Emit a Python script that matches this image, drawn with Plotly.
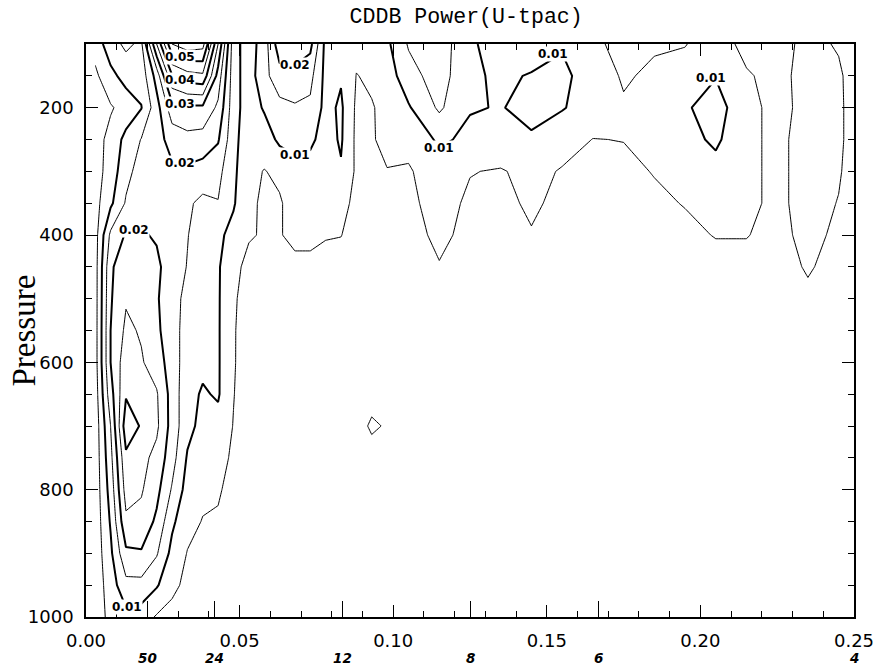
import plotly.graph_objects as go

# frequency (cycles/day) columns of the power grid
freq = [0.003, 0.008, 0.013, 0.018, 0.023, 0.028, 0.033, 0.038, 0.043, 0.048, 0.053,
        0.058, 0.063, 0.068, 0.073, 0.078, 0.083, 0.088, 0.093, 0.098,
        0.105, 0.115, 0.125, 0.135, 0.145, 0.155, 0.165, 0.175, 0.185, 0.195,
        0.205, 0.215, 0.225, 0.235, 0.245, 0.25]

pressure = [100, 150, 200, 250, 300, 350, 400, 450, 500, 550, 600, 650, 700,
            750, 800, 850, 900, 950, 1000]

# power at each pressure level (one list per level, ordered as freq)
p100 = [0.007, 0.013, 0.016, 0.014, 0.035, 0.055, 0.058, 0.057, 0.035, 0.012, 0.0075,
        0.0125, 0.023, 0.024, 0.0215, 0.0085, 0.008, 0.006, 0.0065, 0.009,
        0.0155, 0.018, 0.0105, 0.0085, 0.0085, 0.0095, 0.006, 0.0035, 0.0045, 0.0048,
        0.0075, 0.0035, 0.003, 0.0065, 0.0045, 0.003]
p150 = [0.004, 0.0085, 0.012, 0.012, 0.022, 0.0395, 0.043, 0.044, 0.028, 0.012, 0.0075,
        0.0135, 0.018, 0.018, 0.0165, 0.0085, 0.0095, 0.0049, 0.0055, 0.0075,
        0.013, 0.0175, 0.0105, 0.0095, 0.0102, 0.0112, 0.0075, 0.0045, 0.0058, 0.0068,
        0.0098, 0.0055, 0.0035, 0.0068, 0.0058, 0.003]
p200 = [0.003, 0.0045, 0.0068, 0.0098, 0.018, 0.028, 0.029, 0.029, 0.024, 0.012, 0.0075,
        0.0105, 0.0135, 0.0145, 0.014, 0.0085, 0.0108, 0.0042, 0.0048, 0.0058,
        0.0095, 0.0158, 0.0103, 0.0098, 0.0112, 0.0103, 0.008, 0.0055, 0.0065, 0.0095,
        0.0118, 0.007, 0.003, 0.007, 0.006, 0.003]
p250 = [0.003, 0.0065, 0.0115, 0.0152, 0.018, 0.022, 0.0235, 0.023, 0.0205, 0.0115, 0.007,
        0.0075, 0.011, 0.0115, 0.011, 0.008, 0.0106, 0.004, 0.0045, 0.0065,
        0.0065, 0.0108, 0.009, 0.0085, 0.0095, 0.0072, 0.0049, 0.0051, 0.0062, 0.0085,
        0.0108, 0.0065, 0.0035, 0.0075, 0.006, 0.003]
p300 = [0.003, 0.007, 0.0135, 0.017, 0.0185, 0.019, 0.019, 0.018, 0.0165, 0.011, 0.0065,
        0.0048, 0.006, 0.0085, 0.008, 0.007, 0.0095, 0.0042, 0.0046, 0.0048,
        0.0045, 0.0078, 0.0052, 0.0046, 0.0065, 0.0046, 0.0042, 0.004, 0.0052, 0.0065,
        0.0085, 0.0065, 0.0035, 0.0075, 0.0055, 0.003]
p350 = [0.0033, 0.009, 0.0155, 0.0185, 0.019, 0.0175, 0.0158, 0.0138, 0.0148, 0.0105, 0.006,
        0.0042, 0.0045, 0.007, 0.0065, 0.006, 0.0065, 0.0038, 0.004, 0.0045,
        0.004, 0.0068, 0.0042, 0.0042, 0.0055, 0.0042, 0.0035, 0.0035, 0.0042, 0.0052,
        0.0068, 0.0062, 0.0038, 0.007, 0.0048, 0.003]
p400 = [0.003, 0.016, 0.0205, 0.0205, 0.0195, 0.017, 0.0152, 0.0125, 0.011, 0.0085, 0.0055,
        0.0045, 0.0048, 0.0058, 0.0055, 0.0052, 0.0051, 0.0035, 0.0035, 0.004,
        0.0037, 0.0058, 0.004, 0.004, 0.0048, 0.004, 0.003, 0.003, 0.0035, 0.004,
        0.0052, 0.0052, 0.0035, 0.0065, 0.004, 0.003]
p450 = [0.003, 0.019, 0.024, 0.0215, 0.021, 0.0175, 0.0148, 0.0125, 0.0105, 0.0065, 0.0035,
        0.003, 0.003, 0.0042, 0.0045, 0.004, 0.0035, 0.003, 0.003, 0.0035,
        0.0032, 0.0048, 0.0035, 0.0033, 0.0035, 0.0035, 0.0025, 0.0025, 0.003, 0.0032,
        0.0035, 0.0035, 0.003, 0.0055, 0.0032, 0.003]
p500 = [0.003, 0.0195, 0.0245, 0.0235, 0.0205, 0.017, 0.0135, 0.012, 0.0105, 0.0058, 0.0025,
        0.002, 0.002, 0.0028, 0.003, 0.003, 0.0025, 0.0025, 0.0025, 0.0028,
        0.0028, 0.003, 0.003, 0.0028, 0.0028, 0.0028, 0.002, 0.002, 0.0022, 0.0025,
        0.0028, 0.0028, 0.0025, 0.004, 0.0028, 0.002]
p550 = [0.003, 0.02, 0.026, 0.0245, 0.021, 0.017, 0.013, 0.0115, 0.0105, 0.0055, 0.0022,
        0.0018, 0.0018, 0.002, 0.0022, 0.0022, 0.002, 0.002, 0.002, 0.0022,
        0.0022, 0.0025, 0.0025, 0.0022, 0.0022, 0.0022, 0.0018, 0.0018, 0.002, 0.002,
        0.0022, 0.0022, 0.002, 0.003, 0.0022, 0.0018]
p600 = [0.003, 0.02, 0.028, 0.0255, 0.0225, 0.0175, 0.0125, 0.011, 0.0105, 0.0055, 0.002,
        0.0018, 0.0018, 0.0018, 0.002, 0.002, 0.002, 0.0022, 0.0025, 0.0025,
        0.002, 0.0022, 0.0022, 0.002, 0.002, 0.002, 0.0018, 0.0018, 0.0018, 0.0018,
        0.002, 0.002, 0.0018, 0.0025, 0.002, 0.0018]
p650 = [0.0025, 0.018, 0.0295, 0.0275, 0.0255, 0.018, 0.0115, 0.0095, 0.0105, 0.0052, 0.002,
        0.0018, 0.0018, 0.0018, 0.0018, 0.002, 0.002, 0.0025, 0.003, 0.0028,
        0.0022, 0.002, 0.002, 0.0018, 0.0018, 0.0018, 0.0018, 0.0018, 0.0018, 0.0018,
        0.0018, 0.0018, 0.0018, 0.0022, 0.0018, 0.0015]
p700 = [0.002, 0.015, 0.033, 0.0295, 0.026, 0.018, 0.0115, 0.0085, 0.0085, 0.0048, 0.002,
        0.0018, 0.0018, 0.0018, 0.0018, 0.002, 0.002, 0.0028, 0.0058, 0.0045,
        0.0025, 0.002, 0.0018, 0.0018, 0.0018, 0.0018, 0.0018, 0.0018, 0.0018, 0.0018,
        0.0018, 0.0018, 0.0018, 0.002, 0.0018, 0.0015]
p750 = [0.002, 0.0135, 0.029, 0.0265, 0.0235, 0.017, 0.0095, 0.0075, 0.0065, 0.0043, 0.0018,
        0.0015, 0.0015, 0.0015, 0.0018, 0.0018, 0.0018, 0.0022, 0.0028, 0.0025,
        0.002, 0.0018, 0.0018, 0.0015, 0.0015, 0.0015, 0.0015, 0.0015, 0.0015, 0.0015,
        0.0015, 0.0015, 0.0015, 0.0018, 0.0015, 0.0015]
p800 = [0.002, 0.012, 0.027, 0.0255, 0.0215, 0.0145, 0.008, 0.006, 0.0055, 0.0035, 0.0015,
        0.0015, 0.0015, 0.0015, 0.0015, 0.0015, 0.0015, 0.0018, 0.002, 0.002,
        0.0018, 0.0015, 0.0015, 0.0015, 0.0015, 0.0015, 0.0015, 0.0015, 0.0015, 0.0015,
        0.0015, 0.0015, 0.0015, 0.0015, 0.0015, 0.0015]
p850 = [0.002, 0.0105, 0.024, 0.0235, 0.019, 0.011, 0.0065, 0.0048, 0.0045, 0.003, 0.0012,
        0.0012, 0.0012, 0.0012, 0.0012, 0.0012, 0.0012, 0.0015, 0.0015, 0.0015,
        0.0015, 0.0012, 0.0012, 0.0012, 0.0012, 0.0012, 0.0012, 0.0012, 0.0012, 0.0012,
        0.0012, 0.0012, 0.0012, 0.0012, 0.0012, 0.0012]
p900 = [0.002, 0.009, 0.019, 0.0195, 0.0155, 0.0085, 0.0048, 0.0035, 0.003, 0.002, 0.001,
        0.001, 0.001, 0.001, 0.001, 0.001, 0.001, 0.0012, 0.0012, 0.0012,
        0.0012, 0.001, 0.001, 0.001, 0.001, 0.001, 0.001, 0.001, 0.001, 0.001,
        0.001, 0.001, 0.001, 0.001, 0.001, 0.001]
p950 = [0.002, 0.0075, 0.0135, 0.0135, 0.0105, 0.0065, 0.0035, 0.0025, 0.002, 0.0015, 0.001,
        0.001, 0.001, 0.001, 0.001, 0.001, 0.001, 0.001, 0.001, 0.001,
        0.001, 0.001, 0.001, 0.001, 0.001, 0.001, 0.001, 0.001, 0.001, 0.001,
        0.001, 0.001, 0.001, 0.001, 0.001, 0.001]
p1000 = [0.0035, 0.0058, 0.0085, 0.0075, 0.0045, 0.003, 0.002, 0.0015, 0.0012, 0.001, 0.001,
         0.001, 0.001, 0.001, 0.001, 0.001, 0.001, 0.001, 0.001, 0.001,
         0.001, 0.001, 0.001, 0.001, 0.001, 0.001, 0.001, 0.001, 0.001, 0.001,
         0.001, 0.001, 0.001, 0.001, 0.001, 0.001]

power = [p100, p150, p200, p250, p300, p350, p400, p450, p500, p550, p600,
         p650, p700, p750, p800, p850, p900, p950, p1000]

# periods (days) marked under the frequency axis
periods = [50, 24, 12, 8, 6, 4]
period_freq = [1.0 / d for d in periods]

x_ticks = [0.0, 0.05, 0.10, 0.15, 0.20, 0.25]
y_ticks = [200, 400, 600, 800, 1000]

# contour-level labels: (level, frequency, pressure) where each is written
level_labels = [(0.05, 0.0305, 121), (0.04, 0.0305, 156), (0.03, 0.0305, 194),
                (0.02, 0.0305, 287), (0.02, 0.0155, 392), (0.01, 0.0135, 984),
                (0.02, 0.068, 133), (0.01, 0.068, 275), (0.01, 0.115, 264),
                (0.01, 0.152, 116), (0.01, 0.2035, 153)]

black = [[0, "black"], [1, "black"]]

fig = go.Figure()

# thin levels: 0.005, 0.015, 0.025, ...
fig.add_trace(go.Contour(
    x=freq, y=pressure, z=power, xaxis="x2",
    contours=dict(start=0.005, end=0.065, size=0.01, coloring="lines"),
    colorscale=black, showscale=False,
    line=dict(width=1, smoothing=0),
    hoverinfo="skip",
))

# thick levels: 0.01, 0.02, ...
fig.add_trace(go.Contour(
    x=freq, y=pressure, z=power,
    contours=dict(start=0.01, end=0.06, size=0.01, coloring="lines"),
    colorscale=black, showscale=False,
    line=dict(width=2, smoothing=0),
    hoverinfo="skip",
))

tickfont = dict(family="DejaVu Sans", size=18, color="black")

fig.update_layout(
    width=886, height=665,
    margin=dict(l=86, r=28, t=44, b=48),
    plot_bgcolor="white", paper_bgcolor="white",
    showlegend=False,
    title=dict(text="CDDB Power(U-tpac)",
               font=dict(family="Liberation Mono", size=21.6, color="black"),
               x=0.495, xref="paper", xanchor="center",
               y=1 - 15 / 665, yref="container", yanchor="middle"),
    xaxis=dict(range=[0, 0.25], tickvals=x_ticks, tickformat=".2f",
               ticks="inside", ticklen=12, tickwidth=1.3, tickcolor="black",
               showline=True, linecolor="black", linewidth=1.6, mirror="ticks",
               showgrid=False, zeroline=False, tickfont=tickfont,
               ticklabelstandoff=7,
               minor=dict(dtick=0.01, tick0=0, ticks="inside", ticklen=6,
                          tickwidth=1.1, tickcolor="black", showgrid=False)),
    xaxis2=dict(range=[0, 0.25], overlaying="x", anchor="y", side="bottom",
                tickvals=period_freq, ticks="inside", ticklen=16, tickwidth=1.3,
                tickcolor="black", showticklabels=False, showline=False,
                showgrid=False, zeroline=False),
    yaxis=dict(range=[1000, 100], tickvals=y_ticks,
               ticks="inside", ticklen=12, tickwidth=1.3, tickcolor="black",
               showline=True, linecolor="black", linewidth=1.6, mirror="ticks",
               showgrid=False, zeroline=False, tickfont=tickfont,
               ticklabelstandoff=7,
               minor=dict(dtick=50, tick0=0, ticks="inside", ticklen=6,
                          tickwidth=1.1, tickcolor="black", showgrid=False)),
)

for lev, f, p in level_labels:
    fig.add_annotation(x=f, xref="x", y=p, yref="y", text=f"{lev:.2f}",
                       showarrow=False, xanchor="center", yanchor="middle",
                       bgcolor="white", borderpad=0,
                       font=dict(family="DejaVu Sans", size=12, color="black",
                                 weight="bold"))

for d, f in zip(periods, period_freq):
    fig.add_annotation(x=f, xref="x", y=-0.072, yref="paper", text=str(d),
                       showarrow=False, xanchor="center", yanchor="middle",
                       font=dict(family="DejaVu Sans", size=13.5, color="black",
                                 weight="bold", style="italic"))

fig.add_annotation(x=-0.082, xref="paper", y=0.5, yref="paper", text="Pressure",
                   textangle=-90, showarrow=False, xanchor="center", yanchor="middle",
                   font=dict(family="Liberation Serif", size=33, color="black"))

fig.write_html("out.html")
